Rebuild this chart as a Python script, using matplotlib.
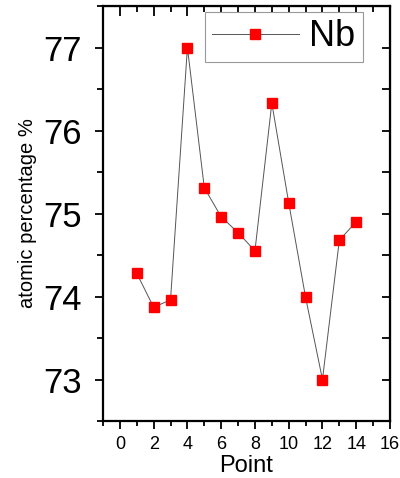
import matplotlib
matplotlib.use('Agg')
import matplotlib.pyplot as plt
from matplotlib.ticker import MultipleLocator

plt.rcParams['font.family'] = ['Liberation Sans', 'DejaVu Sans']

# measured Nb content at each point
points = [1, 2, 3, 4, 5, 6, 7, 8, 9, 10, 11, 12, 13, 14]
nb = [74.28, 73.87, 73.96, 77.0, 75.31, 74.96, 74.77, 74.55, 76.33, 75.13, 73.99, 73.0, 74.68, 74.90]

fig = plt.figure(figsize=(4, 4.78), dpi=100)
ax = fig.add_axes([0.2575, 0.1192, 0.7175, 0.8682])

ax.plot(points, nb, color='#555555', lw=0.7, marker='s', ms=7.5,
        mfc='red', mec='red', label='Nb')

ax.set_xlim(-1, 16)
ax.set_ylim(72.5, 77.5)
ax.xaxis.set_major_locator(MultipleLocator(2))
ax.xaxis.set_minor_locator(MultipleLocator(1))
ax.yaxis.set_major_locator(MultipleLocator(1))
ax.yaxis.set_minor_locator(MultipleLocator(0.5))

for s in ax.spines.values():
    s.set_linewidth(1.6)

ax.tick_params(axis='x', which='major', direction='out', length=6, width=1.3,
               labelsize=13, pad=5)
ax.tick_params(axis='x', which='minor', direction='out', length=3.5, width=1.3)
ax.tick_params(axis='y', which='major', direction='out', length=6, width=1.3,
               labelsize=25, pad=9)
ax.tick_params(axis='y', which='minor', direction='out', length=4, width=1.3)

# inward ticks on the top and right
top = ax.secondary_xaxis('top')
top.set_xticks(range(0, 17, 2))
top.xaxis.set_minor_locator(MultipleLocator(1))
top.tick_params(which='major', direction='in', length=7, width=1.3, labeltop=False)
top.tick_params(which='minor', direction='in', length=4, width=1.3)
right = ax.secondary_yaxis('right')
right.set_yticks([73, 74, 75, 76, 77])
right.yaxis.set_minor_locator(MultipleLocator(0.5))
right.tick_params(which='both', direction='in', length=6, width=1.3, labelright=False)

ax.set_xlabel('Point', fontsize=17, labelpad=1)
ax.set_ylabel('atomic percentage %', fontsize=14.5, labelpad=5)

leg = ax.legend(loc='upper right', bbox_to_anchor=(0.905, 0.985), fontsize=26,
                fancybox=False, framealpha=1, edgecolor='#999999',
                handlelength=2.4, handletextpad=0.3, borderpad=0.2,
                borderaxespad=0)
leg.get_frame().set_linewidth(0.8)

fig.savefig('out.png', dpi=100)
